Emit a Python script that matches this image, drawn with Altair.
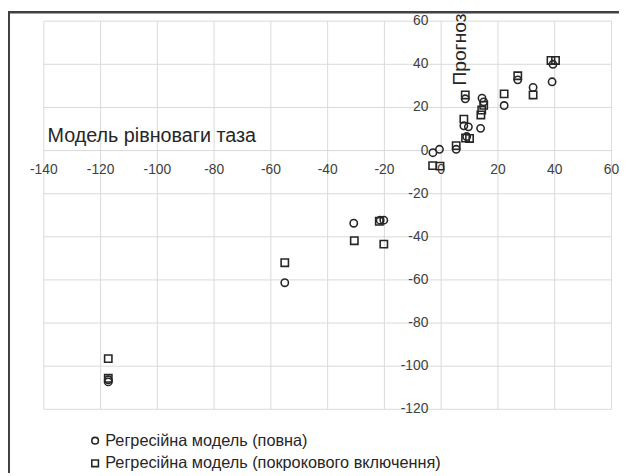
import altair as alt
import pandas as pd

# ---- data ----
x_ticks = [-140, -120, -100, -80, -60, -40, -20, 0, 20, 40, 60]
y_ticks = [-120, -100, -80, -60, -40, -20, 0, 20, 40, 60]

series_names = ["Регресійна модель (повна)",
                "Регресійна модель (покрокового включення)"]

full_x = [-117.3, -117.3, -55.1, -30.8, -21.5, -20.2, -2.9, -0.6, 5.3, 8.5,
          8.0, 9.6, 9.0, 13.9, 14.4, 15.0, 22.2, 27.0, 32.4, 39.1, 39.4]
full_y = [-106.3, -107.3, -61.3, -33.7, -32.3, -32.3, -1.0, 0.6, 0.6, 24.0,
          11.5, 11.0, 6.5, 10.3, 24.3, 22.6, 20.9, 32.8, 29.3, 31.9, 40.0]

step_x = [-117.3, -117.3, -55.1, -30.6, -21.8, -20.2, -3.0, -0.4, 5.3, 8.5,
          8.0, 8.6, 10.0, 14.0, 14.3, 15.0, 22.2, 27.0, 32.4, 38.7, 40.3]
step_y = [-96.5, -105.6, -52.0, -41.8, -32.8, -43.4, -7.0, -7.2, 2.3, 25.8,
          14.6, 5.8, 5.6, 16.5, 18.8, 21.0, 26.3, 34.7, 25.8, 41.8, 41.8]

x_title = "Модель рівноваги таза"
y_title = "Прогноз"

# ---- tables ----
pts = pd.DataFrame({
    "x": full_x + step_x,
    "y": full_y + step_y,
    "series": [series_names[0]] * len(full_x) + [series_names[1]] * len(step_x),
})
vgrid = pd.DataFrame({"x": x_ticks, "y1": y_ticks[0], "y2": y_ticks[-1]})
hgrid = pd.DataFrame({"y": y_ticks, "x1": x_ticks[0], "x2": x_ticks[-1]})
xlab = pd.DataFrame({"x": x_ticks, "y": 0, "t": [str(v) for v in x_ticks]})
ylab = pd.DataFrame({"y": y_ticks, "x": 0, "t": [str(v) for v in y_ticks]})

W, H = 619, 468
xs = alt.Scale(domain=[-152.63, 62.67], nice=False, zero=False)
ys = alt.Scale(domain=[-149.53, 64.72], nice=False, zero=False)
GRID = "#d9d9d9"
FONT = "Liberation Sans"
TXT = "#404040"

base_x = lambda f="x": alt.X(f"{f}:Q", scale=xs, axis=None)
base_y = lambda f="y": alt.Y(f"{f}:Q", scale=ys, axis=None)

vlines = alt.Chart(vgrid).mark_rule(color=GRID, strokeWidth=1).encode(
    x=base_x(), y=base_y("y1"), y2="y2:Q")
hlines = alt.Chart(hgrid).mark_rule(color=GRID, strokeWidth=1).encode(
    y=base_y(), x=base_x("x1"), x2="x2:Q")

xtext = alt.Chart(xlab).mark_text(font=FONT, fontSize=14, color=TXT,
                                  align="center", baseline="middle", dy=20).encode(
    x=base_x(), y=base_y(), text="t:N")
ytext = alt.Chart(ylab).mark_text(font=FONT, fontSize=14, color=TXT,
                                  align="right", baseline="middle", dx=-13).encode(
    x=base_x(), y=base_y(), text="t:N")

xt = alt.Chart(pd.DataFrame({"t": [x_title]})).mark_text(
    font=FONT, fontSize=20, color="#262626", align="left", baseline="middle").encode(
    x=alt.value(40), y=alt.value(127), text="t:N")
yt = alt.Chart(pd.DataFrame({"t": [y_title]})).mark_text(
    font=FONT, fontSize=19.5, color="#262626", align="center", baseline="middle",
    angle=270).encode(
    x=alt.value(458), y=alt.value(39), text="t:N")

points = alt.Chart(pts).mark_point(filled=False, size=55, strokeWidth=1.6,
                                   color="#262626", opacity=1).encode(
    x=base_x(), y=base_y(),
    shape=alt.Shape("series:N",
                    scale=alt.Scale(domain=series_names, range=["circle", "square"]),
                    legend=alt.Legend(title=None, orient="none", legendX=80, legendY=427,
                                      direction="vertical", labelFont=FONT,
                                      labelFontSize=16.5, labelColor="#262626",
                                      symbolSize=45, symbolStrokeWidth=1.6,
                                      symbolStrokeColor="#262626", symbolFillColor="white",
                                      labelOffset=2, rowPadding=6, padding=0,
                                      labelLimit=500)),
)

frame_l = alt.Chart(pd.DataFrame({"a": [0]})).mark_rect(color="#404040").encode(
    x=alt.value(0), x2=alt.value(2), y=alt.value(0), y2=alt.value(H))
frame_t = alt.Chart(pd.DataFrame({"a": [0]})).mark_rect(color="#404040").encode(
    x=alt.value(0), x2=alt.value(W), y=alt.value(0), y2=alt.value(2.5))

chart = alt.layer(vlines, hlines, xtext, ytext, xt, yt, points, frame_l, frame_t).properties(
    width=W, height=H, padding=0,
    autosize=alt.AutoSizeParams(type="none"),
    background="white",
).configure_view(stroke=None)

chart.save("out.html", embed_options={"renderer": "svg", "actions": False})
